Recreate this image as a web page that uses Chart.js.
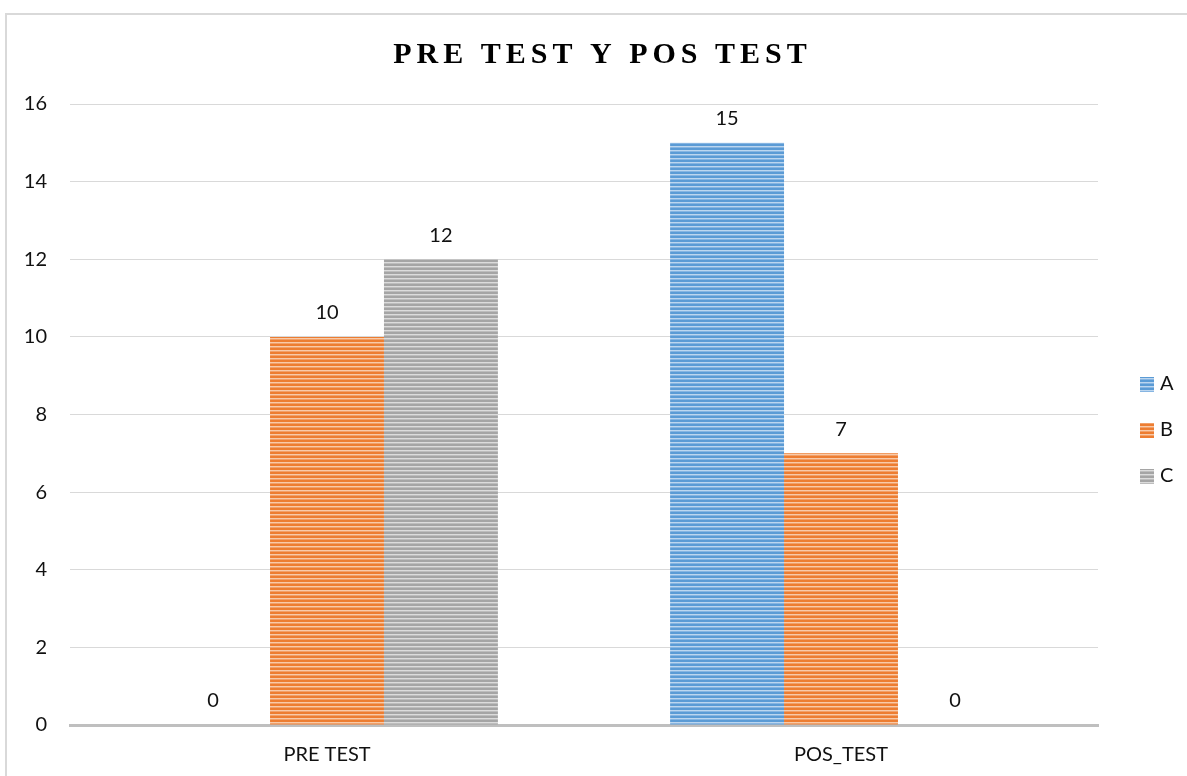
<!DOCTYPE html>
<html>
<head>
<meta charset="utf-8">
<script src="https://cdn.jsdelivr.net/npm/chart.js@4"></script>
<style>
  html, body { margin: 0; padding: 0; background: #fff; }
  #wrap { position: absolute; left: 0; top: 0; width: 1187px; height: 776px; }
  #frame { position: absolute; left: 5px; top: 13px; width: 1300px; height: 900px; border-left: 2px solid #d9d9d9; border-top: 2px solid #d9d9d9; pointer-events: none; }
  canvas { position: absolute; left: 0; top: 0; }
</style>
</head>
<body>
<div id="wrap">
  <canvas id="c" width="1187" height="776"></canvas>
  <div id="frame"></div>
</div>
<script>
const categories = ['PRE TEST', 'POS_TEST'];
const seriesNames = ['A', 'B', 'C'];
const valuesA = [0, 15];
const valuesB = [10, 7];
const valuesC = [12, 0];
const yTicks = [0, 2, 4, 6, 8, 10, 12, 14, 16];
const chartTitle = 'PRE TEST Y POS TEST';

const FONT = 'Lato, "Open Sans", sans-serif';
const TEXT = '#111111';

function stripePattern(base, light, mid) {
  const p = document.createElement('canvas');
  p.width = 4; p.height = 4;
  const g = p.getContext('2d');
  g.fillStyle = base; g.fillRect(0, 0, 4, 4);
  g.fillStyle = light; g.fillRect(0, 2, 4, 1);
  g.fillStyle = mid; g.fillRect(0, 3, 4, 1);
  return document.getElementById('c').getContext('2d').createPattern(p, 'repeat');
}
const fills = [
  stripePattern('#5b9bd5', '#bcd6ef', '#86b5e2'),
  stripePattern('#ed7d31', '#f8caa9', '#f2a068'),
  stripePattern('#a5a5a5', '#dcdcdc', '#bdbdbd')
];

const titlePlugin = {
  id: 'titlePlugin',
  afterDraw(chart) {
    const ctx = chart.ctx;
    ctx.save();
    ctx.font = 'bold 30px "Liberation Serif", "Times New Roman", serif';
    ctx.fillStyle = '#000';
    ctx.textBaseline = 'middle';
    const sp = 5;
    let w = 0;
    for (const ch of chartTitle) w += ctx.measureText(ch).width + sp;
    w -= sp;
    let x = 600 - w / 2;
    for (const ch of chartTitle) {
      ctx.fillText(ch, x, 55);
      x += ctx.measureText(ch).width + sp;
    }
    ctx.restore();
  }
};

const labelPlugin = {
  id: 'labelPlugin',
  afterDatasetsDraw(chart) {
    const ctx = chart.ctx;
    ctx.save();
    ctx.font = '20px ' + FONT;
    ctx.fillStyle = TEXT;
    ctx.textAlign = 'center';
    ctx.textBaseline = 'middle';
    chart.data.datasets.forEach((ds, i) => {
      chart.getDatasetMeta(i).data.forEach((bar, j) => {
        ctx.fillText(String(ds.data[j]), bar.x, bar.y - 24);
      });
    });
    ctx.restore();
  }
};

const legendPlugin = {
  id: 'legendPlugin',
  afterDraw(chart) {
    const ctx = chart.ctx;
    ctx.save();
    ctx.font = '20px ' + FONT;
    ctx.textBaseline = 'middle';
    chart.data.datasets.forEach((ds, i) => {
      const y = 384 + i * 46;
      ctx.fillStyle = ds.backgroundColor;
      ctx.fillRect(1140, y - 7, 14, 15);
      ctx.fillStyle = TEXT;
      ctx.fillText(ds.label, 1160, y);
    });
    ctx.restore();
  }
};

new Chart(document.getElementById('c'), {
  type: 'bar',
  data: {
    labels: categories,
    datasets: [
      { label: seriesNames[0], data: valuesA, backgroundColor: fills[0] },
      { label: seriesNames[1], data: valuesB, backgroundColor: fills[1] },
      { label: seriesNames[2], data: valuesC, backgroundColor: fills[2] }
    ]
  },
  options: {
    responsive: false,
    animation: false,
    devicePixelRatio: 1,
    layout: { padding: { top: 104, right: 89, left: 0, bottom: 0 } },
    datasets: { bar: { barPercentage: 1, categoryPercentage: 0.665 } },
    plugins: { legend: { display: false }, title: { display: false }, tooltip: { enabled: false } },
    scales: {
      x: {
        grid: { display: false, drawTicks: false },
        border: { display: true, color: '#bfbfbf', width: 3 },
        ticks: { font: { family: FONT, size: 20 }, color: TEXT, padding: 18 },
        afterFit(s) { s.height = 51; }
      },
      y: {
        min: 0, max: 16,
        afterBuildTicks(s) { s.ticks = yTicks.map(v => ({ value: v })); },
        grid: { color: '#d9d9d9', lineWidth: 1, drawTicks: false },
        border: { display: false },
        ticks: { font: { family: FONT, size: 20 }, color: TEXT, padding: 23 },
        afterFit(s) { s.width = 70; }
      }
    }
  },
  plugins: [titlePlugin, labelPlugin, legendPlugin]
});
</script>
</body>
</html>
